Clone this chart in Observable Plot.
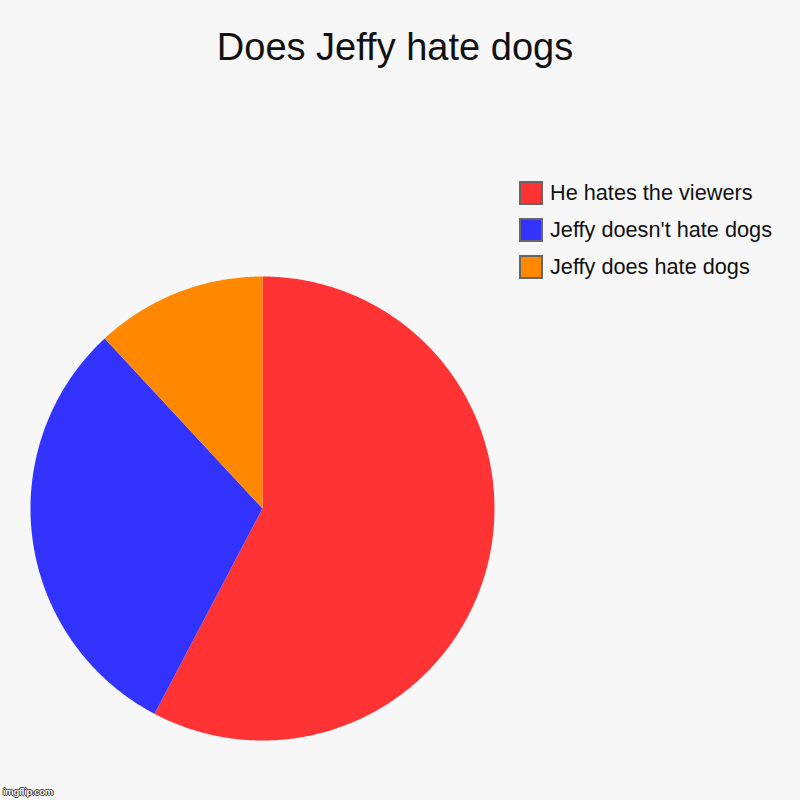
<!DOCTYPE html>
<html>
<head>
<meta charset="utf-8">
<script src="https://cdn.jsdelivr.net/npm/d3@7"></script>
<script src="https://cdn.jsdelivr.net/npm/@observablehq/plot@0.6"></script>
<style>
  html, body { margin: 0; padding: 0; background: #f7f7f7; }
  #wrap { position: relative; width: 800px; height: 800px; background: #f7f7f7; font-family: "Liberation Sans", Arial, sans-serif; overflow: hidden; }
  #title { position: absolute; left: 0; top: 27px; width: 790px; text-align: center; font-size: 38px; color: #111; line-height: 40px; }
  #legend { position: absolute; left: 519px; top: 174px; }
  .row { display: flex; align-items: center; height: 37px; font-size: 21.7px; color: #111; }
  .sw { width: 20px; height: 20px; border: 2px solid #666; margin-right: 7px; box-sizing: content-box; flex: none; }
  #wm { position: absolute; left: 3px; top: 786px; font-size: 9.5px; font-weight: bold; color: #fff; letter-spacing: -0.3px;
        text-shadow: -1px 0 #333, 1px 0 #333, 0 -1px #333, 0 1px #333; }
  #chart { position: absolute; left: 0; top: 0; }
</style>
</head>
<body>
<div id="wrap">
  <div id="chart"></div>
  <div id="title"></div>
  <div id="legend"></div>
  <div id="wm">imgflip.com</div>
</div>
<script>
const title = "Does Jeffy hate dogs";
const categories = ["He hates the viewers", "Jeffy doesn't hate dogs", "Jeffy does hate dogs"];
const values = [57.7, 30.4, 11.9];
const colors = ["#ff3333", "#3333ff", "#ff8800"];

document.getElementById("title").textContent = title;

// Build slice polygons (clockwise from 12 o'clock) from values
const pie = d3.pie().sort(null).value(d => d.value)(categories.map((c, i) => ({category: c, value: values[i]})));
function slicePolygon(a0, a1) {
  const n = Math.max(2, Math.ceil((a1 - a0) / 0.01));
  const pts = [[0, 0]];
  for (let k = 0; k <= n; k++) {
    const a = a0 + (a1 - a0) * k / n;
    pts.push([Math.sin(a), Math.cos(a)]);
  }
  pts.push([0, 0]);
  return pts;
}
const features = pie.map(p => ({
  type: "Feature",
  properties: {category: p.data.category},
  geometry: {type: "Polygon", coordinates: [slicePolygon(p.startAngle, p.endAngle)]}
}));

const chart = Plot.plot({
  width: 800,
  height: 800,
  marginLeft: 30,
  marginRight: 306,
  marginTop: 276,
  marginBottom: 60,
  style: {background: "transparent"},
  projection: {type: "reflect-y", domain: {type: "MultiPoint", coordinates: [[-1, -1], [1, 1]]}},
  color: {domain: categories, range: colors},
  marks: [
    Plot.geo(features, {fill: d => d.properties.category, stroke: "none"})
  ]
});
document.getElementById("chart").appendChild(chart);

const legend = document.getElementById("legend");
categories.forEach((c, i) => {
  const row = document.createElement("div");
  row.className = "row";
  const sw = document.createElement("div");
  sw.className = "sw";
  sw.style.background = colors[i];
  const t = document.createElement("span");
  t.textContent = c;
  row.appendChild(sw);
  row.appendChild(t);
  legend.appendChild(row);
});
</script>
</body>
</html>
